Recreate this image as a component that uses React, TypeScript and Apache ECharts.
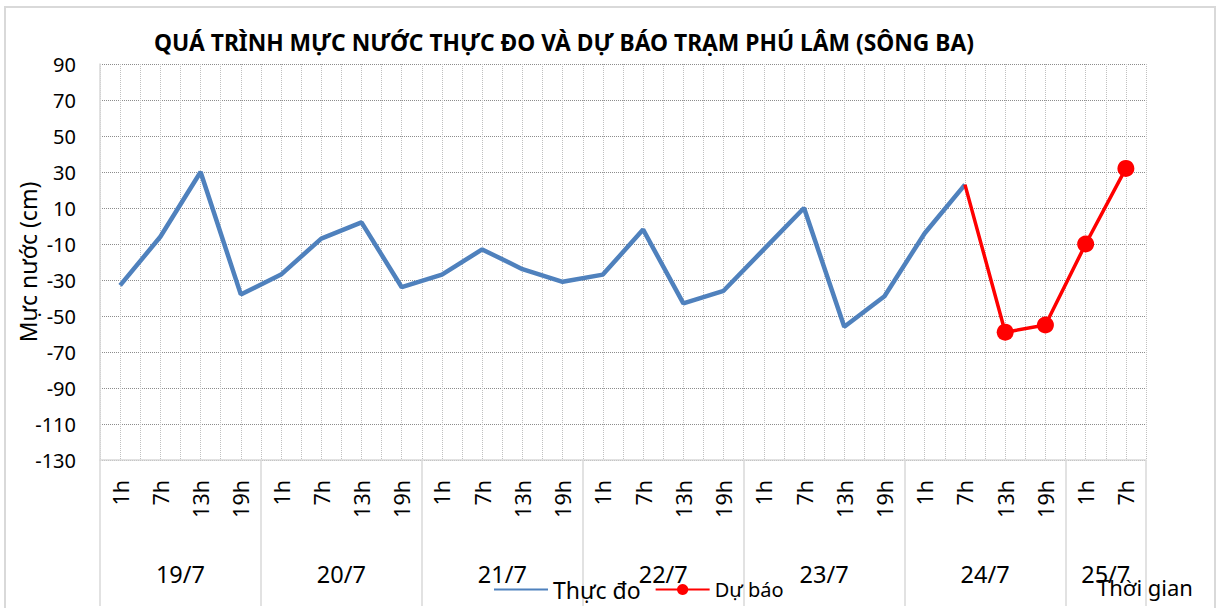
import React, { useEffect, useRef } from "react";
import * as echarts from "echarts";

const days = ["19/7", "20/7", "21/7", "22/7", "23/7", "24/7", "25/7"];
const categories: string[] = [
  "1h", "7h", "13h", "19h",
  "1h", "7h", "13h", "19h",
  "1h", "7h", "13h", "19h",
  "1h", "7h", "13h", "19h",
  "1h", "7h", "13h", "19h",
  "1h", "7h", "13h", "19h",
  "1h", "7h",
];
// day label centers in category units (0..26)
const dayCenters = [2, 6, 10, 14, 18, 22, 25];

const observed: (number | null)[] = [
  -33, -6, 30, -38,
  -27, -7, 2, -34,
  -27, -13, -24, -31,
  -27, -2, -43, -36,
  -13, 10, -56, -39,
  -4, 23, null, null,
  null, null,
];
const forecast: (number | null)[] = [
  null, null, null, null,
  null, null, null, null,
  null, null, null, null,
  null, null, null, null,
  null, null, null, null,
  null, 23, -59, -55,
  -10, 32,
];

const title = "QUÁ TRÌNH MỰC NƯỚC THỰC ĐO VÀ DỰ BÁO TRẠM PHÚ LÂM (SÔNG BA)";
const yName = "Mực nước (cm)";
const xName = "Thời gian";
const seriesNames = ["Thực đo", "Dự báo"];

const FONT = "'Noto Sans', sans-serif";

export default function App() {
  const ref = useRef<HTMLDivElement>(null);
  useEffect(() => {
    if (!ref.current) return;
    const chart = echarts.init(ref.current, undefined, { renderer: "svg" });
    const firstIdx = forecast.findIndex((x) => x !== null);
    const forecastData = forecast.map((v, i) => {
      if (v === null) return null;
      return i === firstIdx ? { value: v, symbol: "none" } : v;
    });
    chart.setOption({
      animation: false,
      backgroundColor: "#ffffff",
      textStyle: { fontFamily: FONT },
      title: {
        text: title,
        left: 149,
        top: 26,
        textStyle: { fontFamily: FONT, fontSize: 22.8, fontWeight: "bold", color: "#000" },
      },
      legend: {
        left: 488,
        top: 573,
        itemWidth: 54,
        itemHeight: 14,
        itemGap: 14,
        textStyle: { fontFamily: FONT, fontSize: 23, color: "#000" },
        data: [
          { name: seriesNames[0], textStyle: { fontSize: 23 }, itemStyle: { opacity: 0 } },
          { name: seriesNames[1], textStyle: { fontSize: 20 } },
        ],
      },
      grid: {
        left: 100,
        top: 64,
        width: 1046,
        height: 396,
        containLabel: false,
        outerBoundsMode: "none",
      },
      xAxis: [
        {
          type: "category",
          data: categories,
          boundaryGap: true,
          axisLine: { show: true, onZero: false, lineStyle: { color: "#d9d9d9", width: 1.5 } },
          axisTick: {
            show: true,
            length: 146,
            interval: (i: number) => i % 4 === 0,
            lineStyle: { color: "#d9d9d9", width: 1.5 },
          },
          axisLabel: {
            interval: 0,
            rotate: 90,
            fontSize: 21.5,
            margin: 20,
            color: "#000",
            fontFamily: FONT,
          },
          splitLine: { show: false },
        },
        {
          type: "value",
          min: 0,
          max: 26,
          interval: 0.5,
          position: "bottom",
          axisLine: { show: false, onZero: false },
          axisTick: { show: false },
          splitLine: { show: true, lineStyle: { type: "dotted", color: "#c0c0c0", width: 1 } },
          axisLabel: {
            margin: 102,
            fontSize: 23.5,
            color: "#000",
            fontFamily: FONT,
            showMinLabel: true,
            showMaxLabel: true,
            formatter: (v: number) => {
              const k = dayCenters.indexOf(v);
              return k >= 0 ? days[k] : "";
            },
          },
        },
      ],
      yAxis: {
        type: "value",
        min: -130,
        max: 90,
        interval: 20,
        name: yName,
        nameLocation: "middle",
        nameGap: 61,
        nameMoveOverlap: false,
        nameTextStyle: { fontFamily: FONT, fontSize: 23, color: "#000" },
        axisLine: { show: true, lineStyle: { color: "#d9d9d9", width: 1.5 } },
        axisTick: { show: false },
        axisLabel: { fontSize: 20, margin: 24, color: "#000", fontFamily: FONT },
        splitLine: { show: true, lineStyle: { type: "dotted", color: "#8c8c8c", width: 1 } },
      },
      graphic: [
        {
          type: "rect",
          shape: { x: 5, y: 7, width: 1210, height: 610 },
          style: { fill: "none", stroke: "#d9d9d9", lineWidth: 2 },
          silent: true,
        },
        {
          type: "text",
          left: 1097,
          top: 576,
          style: { text: xName, fontFamily: FONT, fontSize: 22, fill: "#000" },
        },
      ],
      series: [
        {
          name: seriesNames[0],
          type: "line",
          xAxisIndex: 0,
          data: observed,
          symbol: "none",
          connectNulls: false,
          lineStyle: { color: "#4f81bd", width: 4.5 },
          itemStyle: { color: "#4f81bd" },
        },
        {
          name: seriesNames[1],
          type: "line",
          xAxisIndex: 0,
          data: forecastData,
          symbol: "circle",
          symbolSize: 17,
          lineStyle: { color: "#ff0000", width: 3.5 },
          itemStyle: { color: "#ff0000" },
          z: 3,
        },
      ],
    });
    return () => chart.dispose();
  }, []);
  return (
    <div
      ref={ref}
      style={{ position: "absolute", left: 0, top: 0, width: 1218, height: 608 }}
    />
  );
}
